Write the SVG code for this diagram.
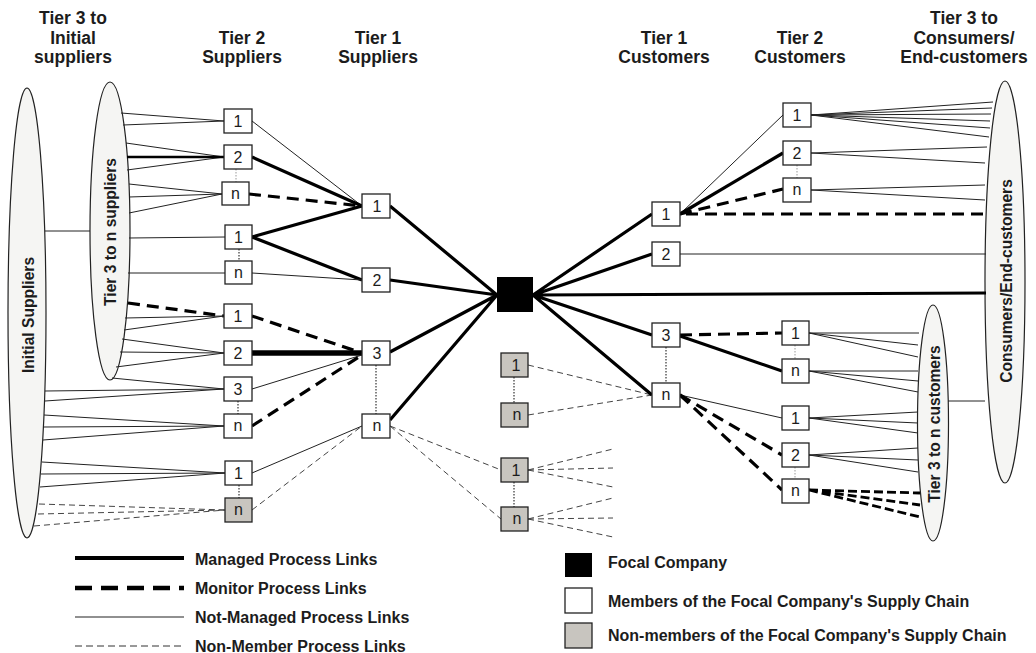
<svg xmlns="http://www.w3.org/2000/svg" width="1036" height="653" viewBox="0 0 1036 653">
<style>
text{font-family:"Liberation Sans",Arial,sans-serif;fill:#1c1c1c}
.hd{font-size:17.5px;font-weight:bold;text-anchor:middle}
.el{fill:#f5f5f3;stroke:#222;stroke-width:1.2}
.et{font-size:15.6px;font-weight:bold;text-anchor:middle}
.bx{fill:#fff;stroke:#222;stroke-width:1.3}
.gy{fill:#c8c5bf;stroke:#222;stroke-width:1.3}
.bt{font-size:16px;text-anchor:middle}
.lg{font-size:16px;font-weight:bold}
.mg{stroke:#000;stroke-width:3.2;fill:none}
.mgx{stroke:#000;stroke-width:5.5;fill:none}
.mo{stroke:#000;stroke-width:3.2;stroke-dasharray:12 7;fill:none}
.nm{stroke:#222;stroke-width:1;fill:none}
.nn{stroke:#444;stroke-width:1;stroke-dasharray:6 4;fill:none}
.dt{stroke:#333;stroke-width:1.2;stroke-dasharray:1.5 1.5;fill:none}
.dl{stroke:#999;stroke-width:1;stroke-dasharray:1.5 1.5;fill:none}
</style>
<rect width="1036" height="653" fill="#fff"/>

<g id="headers">
<text class="hd" x="73" y="24">Tier 3 to</text>
<text class="hd" x="73" y="44">Initial</text>
<text class="hd" x="73" y="63">suppliers</text>
<text class="hd" x="242" y="44">Tier 2</text>
<text class="hd" x="242" y="63">Suppliers</text>
<text class="hd" x="378" y="44">Tier 1</text>
<text class="hd" x="378" y="63">Suppliers</text>
<text class="hd" x="664" y="44">Tier 1</text>
<text class="hd" x="664" y="63">Customers</text>
<text class="hd" x="800" y="44">Tier 2</text>
<text class="hd" x="800" y="63">Customers</text>
<text class="hd" x="964" y="24">Tier 3 to</text>
<text class="hd" x="964" y="44">Consumers/</text>
<text class="hd" x="964" y="63">End-customers</text>
</g>

<g id="initial-suppliers"><ellipse class="el" cx="27" cy="313" rx="19" ry="225"/><text class="et" transform="translate(28,315) rotate(-90)" dy="0.36em">Initial Suppliers</text></g>
<g id="tier3-suppliers"><ellipse class="el" cx="110" cy="231" rx="20" ry="149"/><text class="et" transform="translate(110,232) rotate(-90)" dy="0.36em">Tier 3 to n suppliers</text></g>
<g id="consumers"><ellipse class="el" cx="1005" cy="282" rx="20" ry="201"/><text class="et" transform="translate(1006,281) rotate(-90)" dy="0.36em">Consumers/End-customers</text></g>
<g id="tier3-customers"><ellipse class="el" cx="933" cy="423" rx="15.5" ry="118"/><text class="et" transform="translate(934,424) rotate(-90)" dy="0.36em">Tier 3 to n customers</text></g>

<g id="connectors">
<!-- ellipse links -->
<line class="nm" x1="45" y1="231" x2="90" y2="231"/>
<line class="nm" x1="948" y1="401" x2="985" y2="401"/>
<!-- tier3 -> tier2 suppliers -->
<path class="nm" d="M121 113L224 121M123 125L224 121"/>
<path class="nm" d="M126 143L224 157M127 170L224 157"/>
<line class="mg" x1="127" y1="157" x2="224" y2="157" style="stroke-width:2.5"/>
<path class="nm" d="M129 184L222 194M129 197L222 194M129 213L222 194"/>
<path class="nm" d="M129 238L225 237"/>
<path class="nm" d="M128 273L225 273"/>
<line class="mo" x1="128" y1="303" x2="224" y2="316"/>
<path class="nm" d="M125 318L224 316M124 330L224 316"/>
<path class="nm" d="M122 339L224 353M120 352L224 353M116 367L224 353"/>
<path class="nm" d="M112 378L224 389M45 391L224 389M45 401L224 389"/>
<path class="nm" d="M44 415L224 426M44 427L224 426M43 440L224 426"/>
<path class="nm" d="M42 462L225 473M41 474L225 473M40 487L225 473"/>
<path class="nn" d="M39 504L225 510M38 514L225 510M34 526L225 510"/>
<!-- tier2 -> tier1 suppliers -->
<line class="nm" x1="252" y1="121" x2="362" y2="206"/>
<line class="mg" x1="252" y1="157" x2="362" y2="206"/>
<line class="mo" x1="249" y1="194" x2="362" y2="206"/>
<line class="mg" x1="252" y1="237" x2="362" y2="206"/>
<line class="mg" x1="252" y1="237" x2="362" y2="280"/>
<line class="nm" x1="252" y1="273" x2="362" y2="280"/>
<line class="mo" x1="252" y1="316" x2="362" y2="353"/>
<line class="mgx" x1="252" y1="353" x2="362" y2="353"/>
<line class="nm" x1="252" y1="389" x2="362" y2="355"/>
<line class="mo" x1="252" y1="426" x2="362" y2="355"/>
<line class="nm" x1="252" y1="473" x2="362" y2="426"/>
<line class="nn" x1="252" y1="510" x2="362" y2="426"/>
<!-- tier1 suppliers -> focal -->
<path class="mg" d="M390 206L497 295M390 280L497 295M390 352L497 295M390 420L497 295"/>
<!-- non-members middle -->
<path class="nn" d="M390 426L501 470M390 426L501 519"/>
<path class="nn" d="M528 365L652 395M528 415L652 395"/>
<path class="nn" d="M528 470L613 449M528 470L613 468M528 470L613 487"/>
<path class="nn" d="M528 519L613 498M528 519L613 518M528 519L613 537"/>
<!-- focal -> tier1 customers -->
<path class="mg" d="M533 295L652 214M533 295L652 254M533 295L986 293M533 295L652 335M533 295L652 395"/>
<!-- tier1 -> tier2 customers -->
<line class="nm" x1="680" y1="214" x2="783" y2="115"/>
<line class="mg" x1="680" y1="214" x2="783" y2="153"/>
<line class="mo" x1="680" y1="214" x2="783" y2="189"/>
<line class="mo" x1="686" y1="214" x2="987" y2="214"/>
<line class="nm" x1="680" y1="254" x2="986" y2="254"/>
<line class="mo" x1="680" y1="335" x2="782" y2="333"/>
<line class="mg" x1="680" y1="336" x2="782" y2="371"/>
<line class="nm" x1="680" y1="395" x2="782" y2="418"/>
<line class="mo" x1="680" y1="395" x2="782" y2="455"/>
<line class="mo" x1="680" y1="395" x2="782" y2="490"/>
<!-- tier2 customers -> tier3 -->
<path class="nm" d="M811 115L993 102M811 115L992 108M811 115L991 114M811 115L990 121M811 115L990 128M811 115L989 137"/>
<path class="nm" d="M811 153L987 147M811 153L985 163"/>
<path class="nm" d="M811 190L985 185M811 190L985 200"/>
<path class="nm" d="M809 333L919 333M809 333L918 345M809 333L918 357"/>
<path class="nm" d="M809 371L918 371M809 371L918 381M809 371L918 392"/>
<path class="nm" d="M809 418L918 412M809 418L918 423M809 418L918 433"/>
<path class="nm" d="M809 455L918 448M809 455L918 460M809 455L918 472"/>
<path class="mo" d="M809 490L920 493M809 490L920 505M809 490L920 517" style="stroke-width:2.8;stroke-dasharray:9 4"/>
<!-- dotted links between nodes -->
<path class="dl" d="M236 169V182M797 165V178M795 345V359M795 467V479"/>
<path class="dt" d="M239 249V261M238 401V414M239 485V498M376 365V414M514 377V403M514 482V507M666 347V383"/>
</g>

<g id="s2-1"><rect class="bx" x="224" y="109" width="28" height="24"/><text class="bt" x="238" y="127">1</text></g>
<g id="s2-2"><rect class="bx" x="224" y="145" width="28" height="24"/><text class="bt" x="238" y="163">2</text></g>
<g id="s2-n"><rect class="bx" x="222" y="182" width="27" height="23"/><text class="bt" x="235.5" y="199">n</text></g>
<g id="s2-1b"><rect class="bx" x="225" y="225" width="27" height="24"/><text class="bt" x="238.5" y="243">1</text></g>
<g id="s2-nb"><rect class="bx" x="225" y="261" width="27" height="23"/><text class="bt" x="238.5" y="278">n</text></g>
<g id="s2-1c"><rect class="bx" x="224" y="304" width="28" height="24"/><text class="bt" x="238" y="322">1</text></g>
<g id="s2-2c"><rect class="bx" x="224" y="341" width="28" height="24"/><text class="bt" x="238" y="359">2</text></g>
<g id="s2-3c"><rect class="bx" x="224" y="377" width="28" height="24"/><text class="bt" x="238" y="395">3</text></g>
<g id="s2-nc"><rect class="bx" x="224" y="414" width="28" height="24"/><text class="bt" x="238" y="431">n</text></g>
<g id="s2-1d"><rect class="bx" x="225" y="461" width="27" height="24"/><text class="bt" x="238.5" y="479">1</text></g>
<g id="s2-nd"><rect class="gy" x="225" y="498" width="27" height="24"/><text class="bt" x="238.5" y="515">n</text></g>

<g id="s1-1"><rect class="bx" x="362" y="194" width="28" height="24"/><text class="bt" x="377" y="212">1</text></g>
<g id="s1-2"><rect class="bx" x="362" y="268" width="28" height="24"/><text class="bt" x="377" y="286">2</text></g>
<g id="s1-3"><rect class="bx" x="362" y="341" width="28" height="24"/><text class="bt" x="377" y="359">3</text></g>
<g id="s1-n"><rect class="bx" x="362" y="414" width="28" height="24"/><text class="bt" x="377" y="431">n</text></g>

<g id="focal"><rect x="497" y="277" width="36" height="35" fill="#000"/></g>

<g id="nm-1a"><rect class="gy" x="501" y="353" width="27" height="24"/><text class="bt" x="516" y="371">1</text></g>
<g id="nm-na"><rect class="gy" x="501" y="403" width="27" height="24"/><text class="bt" x="517" y="420">n</text></g>
<g id="nm-1b"><rect class="gy" x="501" y="458" width="27" height="24"/><text class="bt" x="516" y="476">1</text></g>
<g id="nm-nb"><rect class="gy" x="501" y="507" width="27" height="24"/><text class="bt" x="517" y="524">n</text></g>

<g id="c1-1"><rect class="bx" x="652" y="202" width="28" height="24"/><text class="bt" x="666" y="220">1</text></g>
<g id="c1-2"><rect class="bx" x="652" y="242" width="28" height="24"/><text class="bt" x="666" y="260">2</text></g>
<g id="c1-3"><rect class="bx" x="652" y="323" width="28" height="24"/><text class="bt" x="666" y="341">3</text></g>
<g id="c1-n"><rect class="bx" x="652" y="383" width="28" height="24"/><text class="bt" x="666" y="400">n</text></g>

<g id="c2-1"><rect class="bx" x="783" y="103" width="28" height="24"/><text class="bt" x="797" y="121">1</text></g>
<g id="c2-2"><rect class="bx" x="783" y="141" width="28" height="24"/><text class="bt" x="797" y="159">2</text></g>
<g id="c2-n"><rect class="bx" x="783" y="178" width="28" height="24"/><text class="bt" x="797" y="195">n</text></g>
<g id="c2-1b"><rect class="bx" x="782" y="321" width="27" height="24"/><text class="bt" x="795.5" y="339">1</text></g>
<g id="c2-nb"><rect class="bx" x="782" y="359" width="27" height="24"/><text class="bt" x="795.5" y="376">n</text></g>
<g id="c2-1c"><rect class="bx" x="782" y="406" width="27" height="24"/><text class="bt" x="795.5" y="424">1</text></g>
<g id="c2-2c"><rect class="bx" x="782" y="443" width="27" height="24"/><text class="bt" x="795.5" y="461">2</text></g>
<g id="c2-nc"><rect class="bx" x="782" y="479" width="27" height="24"/><text class="bt" x="795.5" y="496">n</text></g>

<g id="legend">
<line x1="75" y1="558" x2="184" y2="558" stroke="#000" stroke-width="4"/>
<line x1="75" y1="588" x2="184" y2="588" stroke="#000" stroke-width="4.5" stroke-dasharray="17 9"/>
<line x1="75" y1="617" x2="184" y2="617" stroke="#222" stroke-width="1.2"/>
<line x1="75" y1="646" x2="184" y2="646" stroke="#333" stroke-width="1" stroke-dasharray="7 4"/>
<text class="lg" x="195" y="565">Managed Process Links</text>
<text class="lg" x="195" y="594">Monitor Process Links</text>
<text class="lg" x="195" y="623">Not-Managed Process Links</text>
<text class="lg" x="195" y="652">Non-Member Process Links</text>
<rect x="565" y="553" width="27" height="24" fill="#000"/>
<rect class="bx" x="565" y="588" width="27" height="25"/>
<rect class="gy" x="565" y="623" width="27" height="25"/>
<text class="lg" x="608" y="568">Focal Company</text>
<text class="lg" x="608" y="607">Members of the Focal Company's Supply Chain</text>
<text class="lg" x="608" y="641">Non-members of the Focal Company's Supply Chain</text>
</g>
</svg>
